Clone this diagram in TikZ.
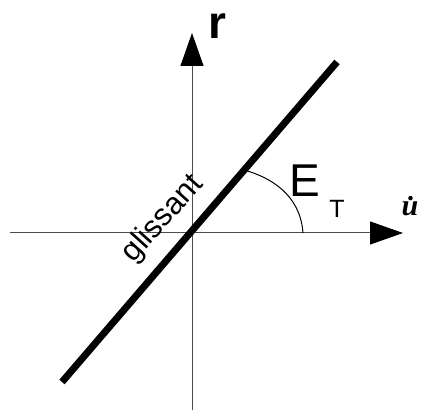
\documentclass[tikz,border=0pt]{standalone}
\usepackage{fontspec}
\setmainfont{Liberation Sans}
\newfontfamily\serifbi{Liberation Serif}
\usetikzlibrary{arrows.meta}
\begin{document}
\begin{tikzpicture}[x=1pt,y=-1pt,
  axis/.style={draw=black!70,line width=1pt,-{Triangle[length=33pt,width=23pt,fill=black,color=black]}},
  thickline/.style={line width=7pt},
  anglearc/.style={line width=1pt}]
\useasboundingbox (0,0) rectangle (423,414);
\coordinate (O) at (192,233);
\coordinate (xl) at (10,233);
\coordinate (xr) at (403,233);
\coordinate (yb) at (192,410);
\coordinate (yt) at (192,33);
\coordinate (L1) at (62,382);
\coordinate (L2) at (337,62);
\coordinate (A1) at (244,170);
\coordinate (A2) at (303,233);
\draw[axis] (xl) -- (xr);
\draw[axis] (yb) -- (yt);
\draw[thickline] (L1) -- (L2);
\draw[anglearc] (A1) .. controls (280,180) and (301,202) .. (A2);
\node (r) at (217,26) {\fontsize{46}{46}\selectfont\bfseries r};
\node (E) at (305,181) {\fontsize{46}{46}\selectfont E};
\node (T) at (337,209) {\fontsize{25}{25}\selectfont T};
\node (u) at (410,206) {\fontsize{30}{30}\selectfont\serifbi\bfseries\itshape \.{u}};
\node[rotate=48] (g) at (163,219) {\fontsize{31}{31}\selectfont glissant};
\end{tikzpicture}
\end{document}
